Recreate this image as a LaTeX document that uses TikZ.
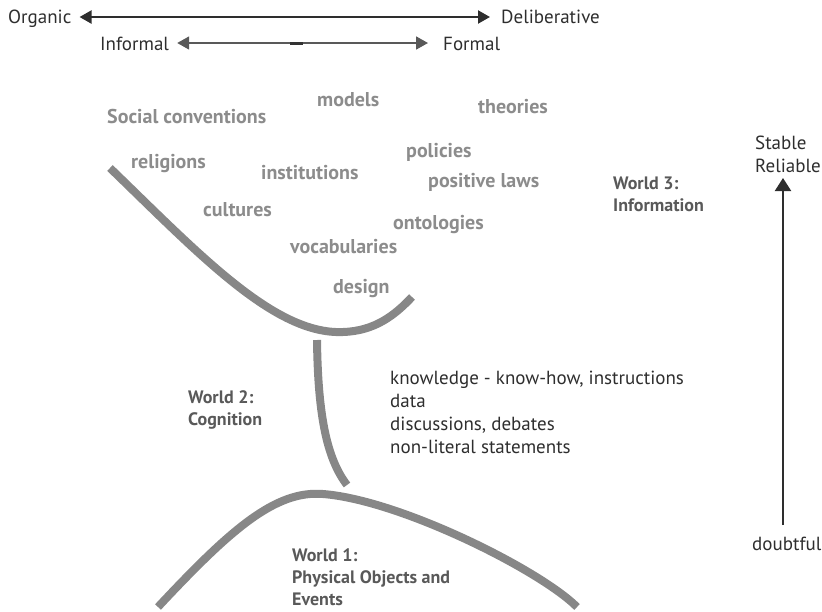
\documentclass[tikz,border=0pt]{standalone}
\usepackage{fontspec}
\setmainfont{PT Sans}
\usetikzlibrary{arrows.meta}

\begin{document}
\begin{tikzpicture}[x=1pt, y=-1pt, >={Triangle[length=12pt,width=13pt]},
  eje/.style={line width=2.2pt, draw=ejegris, <->},
  mundo/.style={line width=8pt, draw=curvagris},
  termino/.style={anchor=base west, inner sep=0pt, text=palgris,
    font=\bfseries\fontsize{20}{22}\selectfont},
  rotulo/.style={anchor=base west, inner sep=0pt, text=ejegris,
    font=\fontsize{19}{23}\selectfont, align=left},
  nivel/.style={anchor=base west, inner sep=0pt, text=mundogris,
    font=\bfseries\fontsize{18}{22}\selectfont, align=left}]
  \colorlet{ejegris}{black!82}
  \colorlet{curvagris}{black!47}
  \colorlet{palgris}{black!45}
  \colorlet{mundogris}{black!65}
  \useasboundingbox (0,0) rectangle (822,611);

  % Ejes superiores
  \node[rotulo] (organic) at (8,23) {Organic};
  \node[rotulo] (deliberative) at (501,23) {Deliberative};
  \node[rotulo] (informal) at (100,50) {Informal};
  \node[rotulo] (formal) at (443,50) {Formal};
  \draw[eje, shorten <=8pt, shorten >=11pt] (organic.east |- 0,17) -- (deliberative.west |- 0,17);
  \draw[eje, line width=1.8pt, draw=black!65, shorten <=8pt, shorten >=15pt]
    (informal.east |- 0,43) -- (formal.west |- 0,43);
  \draw[line width=3pt, draw=black!80] (290,43) -- (303,43); % marca central

  % Mundo 3
  \node[termino] (social) at (107,123) {Social conventions};
  \node[termino] (models) at (317,106) {models};
  \node[termino] (theories) at (478,113) {theories};
  \node[termino] (religions) at (131,168) {religions};
  \node[termino] (institutions) at (261,179) {institutions};
  \node[termino] (policies) at (406,157) {policies};
  \node[termino] (laws) at (428,187) {positive laws};
  \node[termino] (cultures) at (203,216) {cultures};
  \node[termino] (ontologies) at (393,229) {ontologies};
  \node[termino] (vocabularies) at (290,253) {vocabularies};
  \node[termino] (design) at (333,293) {design};
  \node[nivel] (world3) at (613,211) {World 3:\\Information};

  % Mundo 2
  \node[nivel] (world2) at (188,425) {World 2:\\Cognition};
  \node[rotulo] (knowledge) at (390,453) {knowledge - know-how, instructions\\data\\discussions, debates\\non-literal statements};

  % Mundo 1
  \node[nivel] (world1) at (292,605) {World 1:\\Physical Objects and\\Events};

  % Curvas
  \draw[mundo] (110,168) .. controls (200,255) and (275,335) .. (343,332)
    .. controls (375,331) and (395,315) .. (412,297); % U superior
  \draw[mundo] (317,340) .. controls (318,420) and (328,460) .. (347,485); % tallo
  \draw[mundo] (158,607) .. controls (230,530) and (275,490) .. (323,494)
    .. controls (400,500) and (540,570) .. (577,607); % arco inferior

  % Escala de fiabilidad
  \node[rotulo] (stable) at (755,172) {Stable\\Reliable};
  \node[rotulo] (doubtful) at (752,550) {doubtful};
  \coordinate (rtop) at (783,178);
  \coordinate (rbot) at (783,525);
  \draw[line width=2.2pt, draw=ejegris, ->, >={Triangle[length=13pt,width=16pt]}] (rbot) -- (rtop);
\end{tikzpicture}
\end{document}
